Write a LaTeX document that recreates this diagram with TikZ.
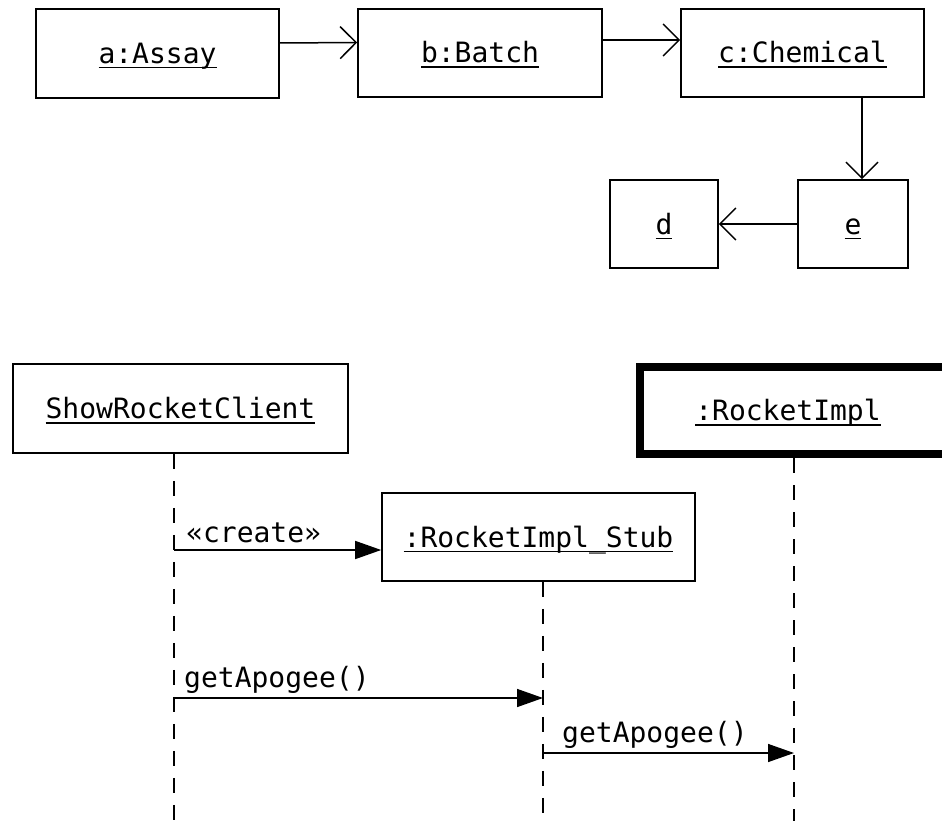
\documentclass[tikz,border=0pt]{standalone}
\usepackage{fontspec}
\newfontfamily\objfontfam{DejaVu Sans Mono}
\usetikzlibrary{arrows.meta}
\newsavebox\ulxbox
\newcommand\ulx[1]{\sbox\ulxbox{#1}\rlap{\rule[-5pt]{\wd\ulxbox}{1.5pt}}\usebox\ulxbox}
\newcommand\objfont{\objfontfam\fontsize{28}{34}\selectfont}
\tikzset{
  obj/.style={draw, line width=1.6pt, rectangle, inner sep=0pt, font=\objfont,
    text height=20pt, text depth=0pt},
  thickobj/.style={obj, line width=8pt},
  assoc/.style={line width=1.5pt, -{Straight Barb[length=16pt,width=32pt]}},
  msg/.style={line width=1.5pt, -{Triangle[length=26pt,width=18pt]}},
  lifeline/.style={line width=1.5pt, dash pattern=on 15pt off 12pt},
  lbl/.style={font=\objfont, inner sep=0pt, anchor=base west},
}
\begin{document}
\begin{tikzpicture}[x=1pt,y=-1pt]
\clip (0,0) rectangle (942,821);
\fill[white] (0,0) rectangle (942,821);
% object diagram
\node[obj, minimum width=243pt, minimum height=89pt] (a) at (157.5,53.5) {\ulx{a:Assay}};
\node[obj, minimum width=244pt, minimum height=88pt] (b) at (480,53) {\ulx{b:Batch}};
\node[obj, minimum width=243pt, minimum height=88pt] (c) at (802.5,53) {\ulx{c:Chemical}};
\node[obj, minimum width=108pt, minimum height=88pt] (d) at (664,224) {\ulx{d}};
\node[obj, minimum width=110pt, minimum height=88pt] (e) at (853,224) {\ulx{e}};
\draw[assoc] ([yshift=10.5pt]a.east) -- ([yshift=10.5pt]b.west);
\draw[assoc] ([yshift=13pt]b.east) -- ([yshift=13pt]c.west);
\draw[assoc] ([xshift=59.5pt]c.south) -- ([xshift=9pt]e.north);
\draw[assoc] (e.west) -- (d.east);
% sequence diagram
\node[obj, minimum width=335pt, minimum height=89pt] (src) at (180.5,408.5) {\ulx{ShowRocketClient}};
\node[thickobj, minimum width=340pt, minimum height=87pt] (rimpl) at (810,410.5) {\ulx{:RocketImpl}\hspace*{44pt}};
\node[obj, minimum width=313pt, minimum height=88pt] (stub) at (538.5,537) {\ulx{:RocketImpl\_Stub}};
\coordinate (srcend) at (174,825);
\coordinate (stubend) at (543,825);
\coordinate (rimplend) at (794,825);
\draw[lifeline] ([xshift=-6.5pt]src.south) -- (srcend);
\draw[lifeline] ([xshift=4.5pt]stub.south) -- (stubend);
\draw[lifeline] ([xshift=-16pt]rimpl.south) -- (rimplend);
\coordinate (m1s) at (174,550);
\coordinate (m2s) at (174,698);
\coordinate (m2e) at (543,698);
\coordinate (m3s) at (543,753);
\coordinate (m3e) at (794,753);
\draw[msg] (m1s) -- (stub.west |- m1s);
\draw[msg] (m2s) -- (m2e);
\draw[msg] (m3s) -- (m3e);
\node[lbl] (l1) at (186,542) {«create»};
\node[lbl] (l2) at (184,687) {getApogee()};
\node[lbl] (l3) at (562,742) {getApogee()};
\end{tikzpicture}
\end{document}
